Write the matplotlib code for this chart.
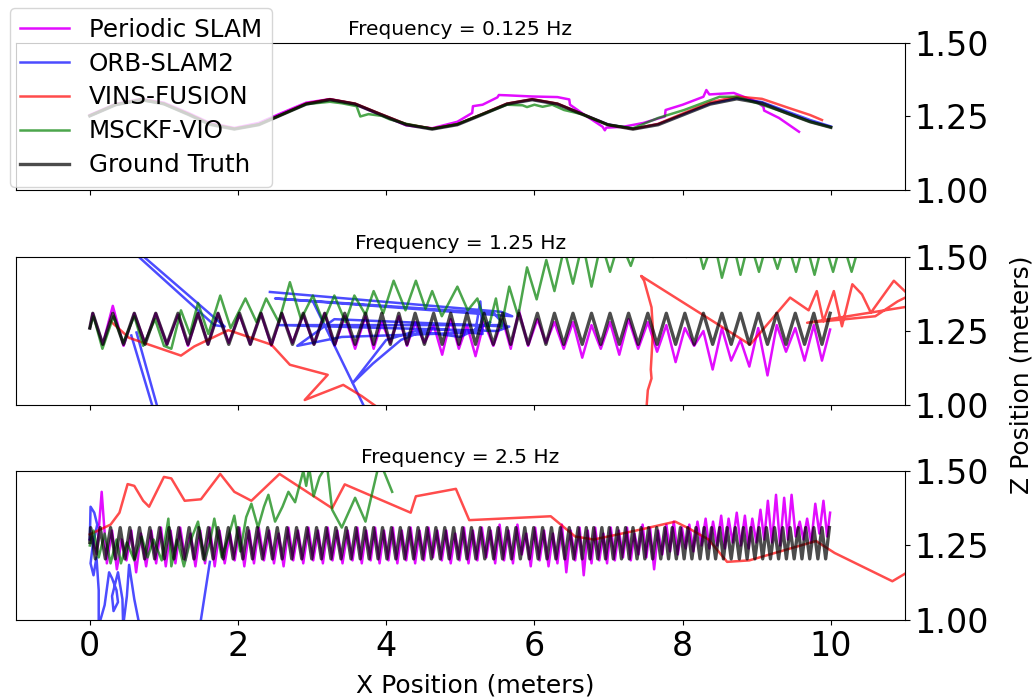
import numpy as np
import matplotlib
matplotlib.use("Agg")
import matplotlib.pyplot as plt

nan = np.nan

titles = ["Frequency = 0.125 Hz", "Frequency = 1.25 Hz", "Frequency = 2.5 Hz"]
labels = ["Periodic SLAM", "ORB-SLAM2", "VINS-FUSION", "MSCKF-VIO", "Ground Truth"]

# ---------------- 0.125 Hz run ----------------
top_x = [0.0, 0.35, 0.7, 1.0, 1.33, 1.62, 1.95, 2.28, 2.6, 2.92, 3.24, 3.58, 3.92, 4.27, 4.62, 4.96,
         5.3, 5.63, 5.97, 6.31, 6.65, 6.99, 7.33, 7.67, 8.02, 8.37, 8.73, 9.07, 9.42, 9.72, 10.0]
top_gt = [1.252, 1.29, 1.307, 1.293, 1.257, 1.223, 1.207, 1.222, 1.257, 1.292, 1.307, 1.292, 1.257,
          1.222, 1.207, 1.222, 1.257, 1.292, 1.307, 1.292, 1.257, 1.222, 1.207, 1.222, 1.257, 1.292,
          1.31, 1.295, 1.26, 1.232, 1.213]
top_orb = [1.252, 1.29, 1.307, 1.293, 1.258, 1.224, 1.208, 1.223, 1.258, 1.293, 1.308, 1.293, 1.258,
           1.223, 1.208, 1.223, 1.258, 1.293, 1.308, 1.293, 1.258, 1.223, 1.208, 1.224, 1.259, 1.294,
           1.312, 1.299, 1.266, 1.238, 1.216]
top_vins_x = top_x[:30] + [9.88]
top_vins = [1.253, 1.291, 1.308, 1.294, 1.259, 1.225, 1.209, 1.223, 1.258, 1.294, 1.309, 1.294, 1.259,
            1.224, 1.209, 1.224, 1.259, 1.294, 1.309, 1.294, 1.258, 1.222, 1.208, 1.225, 1.262, 1.298,
            1.318, 1.31, 1.28, 1.255, 1.238]
top_msckf_x = [0.0, 0.35, 0.7, 1.0, 1.33, 1.62, 1.95, 2.28, 2.6, 2.92, 3.24, 3.4, 3.6, 3.65, 3.76, 3.94,
               4.05, 4.27, 4.62, 4.96, 5.3, 5.63, 5.84, 5.9, 6.0, 6.11, 6.24, 6.4, 6.52, 6.65, 6.99,
               7.33, 7.67, 8.02, 8.37, 8.5, 8.73, 9.07, 9.42, 9.72, 10.0]
top_msckf = [1.252, 1.29, 1.306, 1.292, 1.257, 1.223, 1.207, 1.222, 1.257, 1.292, 1.30, 1.295, 1.285,
             1.25, 1.258, 1.252, 1.24, 1.225, 1.208, 1.224, 1.258, 1.29, 1.288, 1.282, 1.29, 1.283,
             1.29, 1.272, 1.265, 1.257, 1.222, 1.21, 1.245, 1.272, 1.305, 1.317, 1.317, 1.29, 1.26,
             1.232, 1.213]
top_per_x = [0.0, 0.35, 0.7, 1.0, 1.33, 1.62, 1.95, 2.28, 2.6, 2.92, 3.24, 3.58, 3.92, 4.27, 4.62, 4.96,
             5.16, 5.17, 5.3, 5.5, 5.52, 5.63, 5.97, 6.31, 6.47, 6.48, 6.65, 6.92, 6.95, 6.97, 7.2,
             7.47, 7.76, 7.77, 8.0, 8.28, 8.32, 8.36, 8.69, 9.0, 9.09, 9.1, 9.3, 9.57]
top_per = [1.255, 1.293, 1.31, 1.297, 1.262, 1.228, 1.211, 1.228, 1.263, 1.297, 1.309, 1.292, 1.256,
           1.22, 1.21, 1.232, 1.262, 1.285, 1.29, 1.315, 1.323, 1.322, 1.318, 1.316, 1.308, 1.29,
           1.26, 1.215, 1.203, 1.212, 1.215, 1.228, 1.25, 1.272, 1.29, 1.317, 1.34, 1.325, 1.33,
           1.30, 1.283, 1.27, 1.245, 1.198]

# ---------------- 1.25 Hz run ----------------
gt_hi, gt_lo = 1.31, 1.205
mid_peaks = [0.04, 0.31, 0.60, 0.89, 1.19, 1.46, 1.73, 2.02, 2.31, 2.59, 2.88, 3.17, 3.44,
             3.72, 3.94, 4.17, 4.39, 4.64, 4.87, 5.09, 5.32, 5.57, 5.79, 6.04, 6.27, 6.52, 6.77,
             7.02, 7.27, 7.53, 7.78, 8.03, 8.28, 8.53, 8.78, 9.02, 9.27, 9.52, 9.77, 9.99]
mid_troughs = [0.175, 0.455, 0.745, 1.04, 1.325, 1.595, 1.875, 2.165, 2.45, 2.735, 3.025, 3.305, 3.58,
               3.83, 4.055, 4.28, 4.515, 4.755, 4.98, 5.205, 5.445, 5.68, 5.915, 6.155, 6.395, 6.645,
               6.895, 7.145, 7.4, 7.655, 7.905, 8.155, 8.405, 8.655, 8.9, 9.145, 9.395, 9.645, 9.88]
mid_per_hi = [1.31, 1.335, 1.31, 1.31, 1.305, 1.31, 1.31, 1.305, 1.31, 1.31, 1.305, 1.31, 1.30,
              1.30, 1.28, 1.30, 1.28, 1.27, 1.29, 1.27, 1.28, 1.29, 1.32, 1.29, 1.28, 1.28, 1.27,
              1.28, 1.29, 1.28, 1.27, 1.26, 1.25, 1.26, 1.22, 1.26, 1.27, 1.26, 1.27, 1.255]
mid_per_lo = [1.205, 1.20, 1.21, 1.205, 1.20, 1.205, 1.21, 1.205, 1.20, 1.21, 1.205, 1.20, 1.19,
              1.19, 1.21, 1.20, 1.21, 1.17, 1.19, 1.165, 1.20, 1.19, 1.20, 1.21, 1.19, 1.16, 1.19,
              1.17, 1.19, 1.18, 1.145, 1.20, 1.12, 1.15, 1.13, 1.10, 1.18, 1.15, 1.15]
mid_orb_x = [0.0, 1.68, 1.82, 0.04, nan, 0.56, 0.9, 0.96, 0.63, nan,
             2.43, 5.55, 5.7, 2.5, 5.45, 5.6, 2.55, 5.5, 5.66, 3.3, 2.8, 3.4, 5.2, 5.27, 5.3, 4.6,
             4.2, 3.82, 3.55, 4.0, 4.4, 5.0, 5.4, nan, 3.02, 3.75]
mid_orb = [1.65, 1.27, 1.265, 1.65, nan, 1.235, 0.95, 0.95, 1.245, nan,
           1.382, 1.315, 1.30, 1.36, 1.31, 1.27, 1.27, 1.25, 1.265, 1.29, 1.20, 1.23, 1.245, 1.35,
           1.24, 1.26, 1.22, 1.14, 1.075, 1.22, 1.25, 1.23, 1.28, nan, 1.345, 0.97]
mid_vins_x = [0.28, 0.53, 1.23, 1.41, 1.87, 2.45, 2.70, 3.21, 2.90, 3.42, 3.67, 3.95, 5.5, 7.45,
              7.5, 7.53, 7.58, 7.57, 7.6, 7.58, 7.48, 7.44, 8.91, 9.45, 9.7, 9.81, 9.9, 10.04,
              10.15, 10.29, 10.42, 10.54, 10.85, 11.06, 10.9, 10.6, 10.2, 9.68, 11.1]
mid_vins = [1.283, 1.227, 1.167, 1.198, 1.253, 1.204, 1.136, 1.102, 1.017, 1.068, 1.03, 0.98, 0.75,
            0.8, 0.95, 1.05, 1.09, 1.12, 1.25, 1.33, 1.42, 1.436, 1.204, 1.363, 1.32, 1.385, 1.283,
            1.385, 1.266, 1.408, 1.374, 1.312, 1.42, 1.37, 1.35, 1.30, 1.29, 1.278, 1.335]
mid_msckf_x = [0.0, 0.05, 0.17, 0.32, 0.45, 0.6, 0.72, 0.88, 1.0, 1.1, 1.23, 1.35, 1.46, 1.6, 1.76,
               1.9, 2.1, 2.25, 2.38, 2.55, 2.7, 2.85, 3.01, 3.15, 3.3, 3.45, 3.57, 3.72, 3.83, 3.96,
               4.1, 4.26, 4.4, 4.53, 4.62, 4.75, 4.96, 5.1, 5.23, 5.37, 5.48, 5.55, 5.66, 5.78, 5.9,
               6.03, 6.16, 6.27, 6.4, 6.52, 6.65, 6.77, 6.9, 7.02, 7.15, 7.3, 7.45, 7.6, 7.8, 8.05,
               8.17, 8.28, 8.42, 8.53, 8.67, 8.78, 8.9, 9.03, 9.15, 9.28, 9.4, 9.53, 9.65, 9.78, 9.9,
               10.03, 10.15, 10.28, 10.36]
mid_msckf = [1.26, 1.30, 1.19, 1.30, 1.21, 1.30, 1.20, 1.29, 1.20, 1.19, 1.32, 1.24, 1.345, 1.24,
             1.37, 1.26, 1.36, 1.28, 1.36, 1.28, 1.415, 1.29, 1.37, 1.28, 1.37, 1.28, 1.37, 1.305,
             1.385, 1.31, 1.42, 1.32, 1.42, 1.325, 1.385, 1.30, 1.40, 1.32, 1.36, 1.25, 1.36, 1.26,
             1.40, 1.30, 1.465, 1.357, 1.49, 1.385, 1.53, 1.41, 1.55, 1.40, 1.55, 1.45, 1.56, 1.47,
             1.58, 1.50, 1.58, 1.50, 1.57, 1.46, 1.56, 1.43, 1.56, 1.44, 1.56, 1.45, 1.56, 1.46,
             1.56, 1.45, 1.56, 1.44, 1.56, 1.45, 1.56, 1.45, 1.52]

# ---------------- 2.5 Hz run ----------------
bot_peaks = [0.01, 0.14, 0.28, 0.41, 0.54, 0.67, 0.81, 0.94, 1.07, 1.20, 1.34, 1.47, 1.60, 1.73,
             1.87, 2.00, 2.13, 2.26, 2.40, 2.53, 2.66, 2.79, 2.93, 3.06, 3.19, 3.32, 3.46, 3.59,
             3.71, 3.83, 3.95, 4.07, 4.19, 4.31, 4.43, 4.55, 4.67, 4.79, 4.91, 5.03, 5.15, 5.27,
             5.39, 5.51, 5.63, 5.75, 5.87, 5.99, 6.11, 6.23, 6.35, 6.47, 6.59,
             6.70, 6.80, 6.91, 7.01, 7.12, 7.23, 7.33, 7.44, 7.54, 7.65, 7.76, 7.86, 7.97, 8.07,
             8.18, 8.29, 8.39, 8.50, 8.60, 8.71, 8.82, 8.92, 9.03, 9.13, 9.24, 9.35, 9.45, 9.56,
             9.66, 9.77, 9.88, 9.98]
bot_troughs = [0.075, 0.21, 0.345, 0.475, 0.605, 0.74, 0.875, 1.005, 1.135, 1.27, 1.405, 1.535, 1.665, 1.80,
               1.935, 2.065, 2.195, 2.33, 2.465, 2.595, 2.725, 2.86, 2.995, 3.125, 3.255, 3.39, 3.525, 3.65,
               3.77, 3.89, 4.01, 4.13, 4.25, 4.37, 4.49, 4.61, 4.73, 4.85, 4.97, 5.09, 5.21, 5.33,
               5.45, 5.57, 5.69, 5.81, 5.93, 6.05, 6.17, 6.29, 6.41, 6.53, 6.645,
               6.75, 6.855, 6.96, 7.065, 7.175, 7.28, 7.385, 7.49, 7.595, 7.705, 7.81, 7.915, 8.02, 8.125,
               8.235, 8.34, 8.445, 8.55, 8.655, 8.765, 8.87, 8.975, 9.08, 9.185, 9.295, 9.40, 9.505, 9.61,
               9.715, 9.825, 9.93]
# the SLAM estimate lags the truth by a couple of centimetres in this run
bot_per_peaks = [0.03, 0.16, 0.30, 0.43, 0.56, 0.69, 0.83, 0.96, 1.09, 1.22, 1.36, 1.49, 1.62, 1.75,
                 1.89, 2.02, 2.15, 2.28, 2.42, 2.55, 2.68, 2.81, 2.95, 3.08, 3.21, 3.34, 3.48, 3.61,
                 3.73, 3.85, 3.97, 4.09, 4.21, 4.33, 4.45, 4.57, 4.69, 4.81, 4.93, 5.05, 5.17, 5.29,
                 5.41, 5.53, 5.65, 5.77, 5.89, 6.01, 6.13, 6.25, 6.37, 6.49, 6.61,
                 6.72, 6.82, 6.93, 7.03, 7.14, 7.25, 7.35, 7.46, 7.56, 7.67, 7.78, 7.88, 7.99, 8.09,
                 8.20, 8.31, 8.41, 8.52, 8.62, 8.73, 8.84, 8.94, 9.05, 9.15, 9.26, 9.37, 9.47, 9.58,
                 9.68, 9.79, 9.90, 9.99]
bot_per_troughs = [0.095, 0.23, 0.365, 0.495, 0.625, 0.76, 0.895, 1.025, 1.155, 1.29, 1.425, 1.555, 1.685, 1.82,
                   1.955, 2.085, 2.215, 2.35, 2.485, 2.615, 2.745, 2.88, 3.015, 3.145, 3.275, 3.41, 3.545, 3.67,
                   3.79, 3.91, 4.03, 4.15, 4.27, 4.39, 4.51, 4.63, 4.75, 4.87, 4.99, 5.11, 5.23, 5.35,
                   5.47, 5.59, 5.71, 5.83, 5.95, 6.07, 6.19, 6.31, 6.43, 6.55, 6.665,
                   6.77, 6.875, 6.98, 7.085, 7.195, 7.30, 7.405, 7.51, 7.615, 7.725, 7.83, 7.935, 8.04, 8.145,
                   8.255, 8.36, 8.465, 8.57, 8.675, 8.785, 8.89, 8.995, 9.10, 9.205, 9.315, 9.42, 9.525, 9.63,
                   9.735, 9.845, 9.95]
bot_per_hi = [1.28, 1.43, 1.30, 1.27, 1.30, 1.29, 1.30, 1.31, 1.30, 1.31, 1.29, 1.30, 1.31, 1.30,
              1.29, 1.31, 1.30, 1.31, 1.30, 1.29, 1.31, 1.30, 1.31, 1.30, 1.31, 1.30, 1.30, 1.31,
              1.30, 1.31, 1.30, 1.31, 1.30, 1.31, 1.30, 1.31, 1.30, 1.30, 1.29, 1.31, 1.30, 1.31,
              1.30, 1.32, 1.30, 1.32, 1.29, 1.31, 1.30, 1.29, 1.32, 1.30, 1.31,
              1.30, 1.31, 1.29, 1.31, 1.30, 1.31, 1.29, 1.32, 1.31, 1.30, 1.32, 1.33, 1.31, 1.32,
              1.33, 1.34, 1.33, 1.35, 1.34, 1.36, 1.35, 1.34, 1.37, 1.40, 1.42, 1.41, 1.42, 1.33,
              1.34, 1.39, 1.40, 1.36]
bot_per_lo = [1.22, 1.19, 1.17, 1.20, 1.16, 1.18, 1.19, 1.18, 1.19, 1.20, 1.18, 1.19, 1.18, 1.19,
              1.20, 1.18, 1.19, 1.20, 1.19, 1.18, 1.20, 1.19, 1.20, 1.19, 1.20, 1.19, 1.20, 1.19,
              1.20, 1.19, 1.20, 1.19, 1.20, 1.19, 1.20, 1.21, 1.20, 1.19, 1.20, 1.19, 1.20, 1.21,
              1.19, 1.20, 1.19, 1.22, 1.18, 1.20, 1.18, 1.19, 1.16, 1.20, 1.15,
              1.19, 1.20, 1.19, 1.20, 1.21, 1.20, 1.22, 1.21, 1.17, 1.22, 1.23, 1.22, 1.24, 1.23,
              1.25, 1.24, 1.25, 1.24, 1.26, 1.25, 1.24, 1.26, 1.27, 1.26, 1.25, 1.27, 1.28, 1.27,
              1.26, 1.29, 1.28]
bot_orb_x = [0.0, 0.01, 0.06, 0.1, 0.04, 0.01, 0.05, 0.09, 0.12, 0.12, 0.2, 0.26, 0.3, 0.36, 0.38,
             0.32, 0.3, 0.38, 0.44, 0.45, 0.5, 0.53, 0.6, 0.68, 1.48, 1.62]
bot_orb = [1.27, 1.38, 1.36, 1.32, 1.25, 1.19, 1.15, 1.21, 1.10, 0.98, 1.05, 1.16, 1.14, 1.10, 1.06,
           1.03, 1.08, 1.16, 1.07, 0.98, 1.08, 1.185, 1.07, 0.97, 0.97, 1.195]
bot_vins_x = [0.0, 0.28, 0.4, 0.51, 0.6, 0.72, 0.8, 1.0, 1.1, 1.28, 1.5, 1.76, 1.95, 2.18, 2.56, 3.27,
              3.44, 4.33, 4.4, 4.94, 5.12, 6.22, 6.55, 6.8, 7.37, 7.9, 8.1, 8.35, 8.6, 8.9, 9.8,
              10.05, 10.83, 11.1]
bot_vins = [1.287, 1.32, 1.36, 1.456, 1.45, 1.40, 1.38, 1.48, 1.475, 1.40, 1.405, 1.49, 1.43, 1.40,
            1.49, 1.375, 1.455, 1.36, 1.415, 1.44, 1.335, 1.348, 1.28, 1.27, 1.30, 1.33, 1.305,
            1.27, 1.195, 1.20, 1.265, 1.225, 1.13, 1.17]
bot_msckf_x = [0.0, 0.05, 0.12, 0.2, 0.28, 0.36, 0.42, 0.5, 0.6, 0.7, 0.78, 0.86, 0.97, 1.06, 1.1,
               1.18, 1.27, 1.35, 1.46, 1.55, 1.62, 1.68, 1.78, 1.86, 1.95, 2.03, 2.11, 2.18, 2.27,
               2.35, 2.41, 2.5, 2.6, 2.68, 2.77, 2.88, 2.92, 2.96, 3.02, 3.1, 3.2, 3.27, 3.4, 3.49,
               3.58, 3.72, 3.88, 3.95, 4.08]
bot_msckf = [1.25, 1.30, 1.21, 1.29, 1.19, 1.27, 1.19, 1.26, 1.20, 1.28, 1.21, 1.27, 1.20, 1.34,
             1.18, 1.27, 1.18, 1.26, 1.33, 1.20, 1.26, 1.34, 1.21, 1.27, 1.35, 1.23, 1.345, 1.39,
             1.31, 1.38, 1.42, 1.33, 1.38, 1.43, 1.395, 1.50, 1.45, 1.51, 1.415, 1.48, 1.52, 1.37,
             1.31, 1.36, 1.41, 1.33, 1.50, 1.51, 1.43]


def weave(peaks, peak_z, troughs, trough_z, start):
    """Join alternating crest / trough samples into one trajectory."""
    peak_z = np.broadcast_to(peak_z, (len(peaks),))
    trough_z = np.broadcast_to(trough_z, (len(troughs),))
    x = np.empty(len(peaks) + len(troughs))
    z = np.empty_like(x)
    x[0::2], z[0::2] = peaks, peak_z
    x[1::2], z[1::2] = troughs, trough_z
    return np.r_[start[0], x], np.r_[start[1], z]


styles = [dict(color="#e100ff", lw=1.8, alpha=0.95),
          dict(color="blue", lw=1.8, alpha=0.7),
          dict(color="red", lw=1.8, alpha=0.7),
          dict(color="green", lw=1.8, alpha=0.7),
          dict(color="black", lw=2.4, alpha=0.7)]

runs = [
    [(top_per_x, top_per), (top_x, top_orb), (top_vins_x, top_vins),
     (top_msckf_x, top_msckf), (top_x, top_gt)],
    [weave(mid_peaks, mid_per_hi, mid_troughs, mid_per_lo, (0.0, 1.26)),
     (mid_orb_x, mid_orb), (mid_vins_x, mid_vins), (mid_msckf_x, mid_msckf),
     weave(mid_peaks, gt_hi, mid_troughs, gt_lo, (0.0, 1.26))],
    [weave(bot_per_peaks, bot_per_hi, bot_per_troughs, bot_per_lo, (0.0, 1.27)),
     (bot_orb_x, bot_orb), (bot_vins_x, bot_vins), (bot_msckf_x, bot_msckf),
     weave(bot_peaks, gt_hi, bot_troughs, gt_lo, (0.0, 1.26))],
]

fig = plt.figure(figsize=(10.34, 7.0), dpi=100)
rects = [[0.0152, 0.7286, 0.86, 0.21],
         [0.0152, 0.4214, 0.86, 0.2114],
         [0.0152, 0.1143, 0.86, 0.2129]]

axes = []
for rect, title, series in zip(rects, titles, runs):
    ax = fig.add_axes(rect)
    for (x, z), st, lab in zip(series, styles, labels):
        ax.plot(x, z, label=lab, solid_joinstyle="round", **st)
    ax.set_xlim(-1, 11)
    ax.set_ylim(1.0, 1.5)
    ax.set_title(title, fontsize=14.5)
    ax.yaxis.tick_right()
    ax.set_yticks([1.0, 1.25, 1.5])
    ax.set_yticklabels(["1.00", "1.25", "1.50"])
    ax.set_xticks([0, 2, 4, 6, 8, 10])
    ax.tick_params(labelsize=24)
    axes.append(ax)

axes[0].tick_params(labelbottom=False)
axes[1].tick_params(labelbottom=False)

fig.text(475 / 1034, 0.02, "X Position (meters)", ha="center", va="center", fontsize=18)
fig.text(0.988, 0.464, "Z Position (meters)", ha="center", va="center", rotation=90, fontsize=18)

handles, labs = axes[0].get_legend_handles_labels()
fig.legend(handles, labs, loc="upper left", bbox_to_anchor=(10 / 1034, 1 - 8 / 700),
           fontsize=17.7, framealpha=0.8, borderaxespad=0, labelspacing=0.4)

fig.savefig("out.png", dpi=100)
